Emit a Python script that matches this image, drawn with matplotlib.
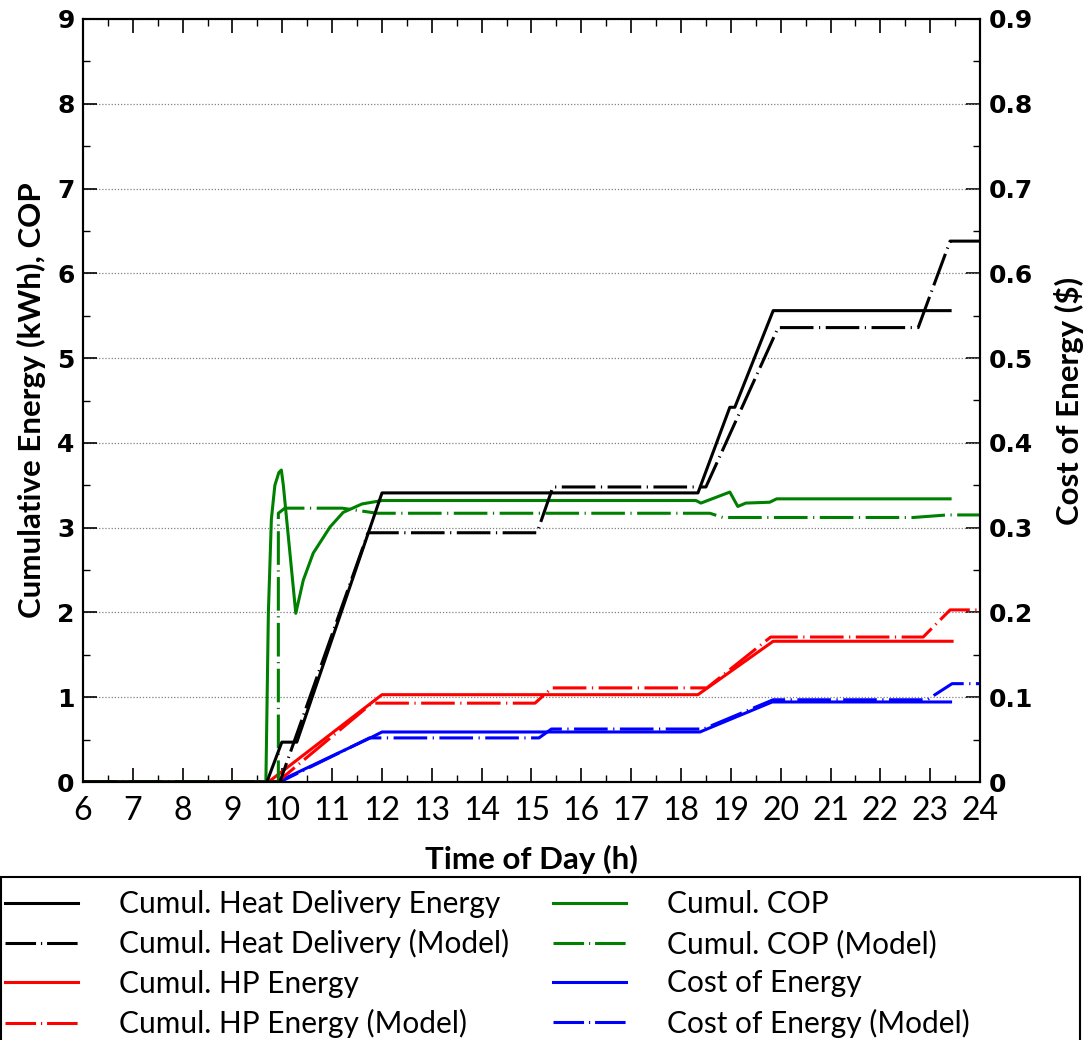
import matplotlib
matplotlib.use("Agg")
import matplotlib.pyplot as plt
from matplotlib.lines import Line2D
from matplotlib.patches import Rectangle
from matplotlib.ticker import MultipleLocator

# ---------------- data ----------------
heat_t = [6, 9.69, 9.99, 10.29, 12.0, 18.34, 18.98, 19.08, 19.85, 23.4]
heat_v = [0, 0, 0.47, 0.47, 3.41, 3.41, 4.42, 4.42, 5.56, 5.56]

heatm_t = [6, 9.95, 11.72, 15.11, 15.43, 18.5, 19.95, 22.76, 23.4, 24]
heatm_v = [0, 0, 2.94, 2.94, 3.48, 3.48, 5.36, 5.36, 6.38, 6.38]

hp_t = [6, 9.72, 12.0, 18.34, 19.85, 23.44]
hp_v = [0, 0, 1.03, 1.03, 1.66, 1.66]

hpm_t = [6, 9.9, 11.8, 15.07, 15.41, 18.52, 19.8, 22.86, 23.4, 24]
hpm_v = [0, 0, 0.93, 0.93, 1.11, 1.11, 1.71, 1.71, 2.03, 2.03]

cop_t = [6, 9.67, 9.72, 9.78, 9.85, 9.93, 9.98, 10.02, 10.27, 10.42, 10.62, 10.96,
         11.22, 11.6, 12.0, 18.3, 18.4, 18.98, 19.14, 19.3, 19.78, 19.92, 23.4]
cop_v = [0, 0, 2.0, 3.1, 3.5, 3.65, 3.68, 3.5, 1.99, 2.38, 2.70, 3.01,
         3.18, 3.28, 3.32, 3.32, 3.29, 3.42, 3.25, 3.29, 3.30, 3.34, 3.34]

copm_t = [6, 9.92, 9.92, 10.05, 11.2, 11.9, 18.58, 18.84, 22.66, 23.34, 24]
copm_v = [0, 0, 3.17, 3.23, 3.23, 3.17, 3.17, 3.12, 3.12, 3.15, 3.15]

cost_t = [6, 9.9, 11.8, 12.0, 18.38, 19.83, 23.44]
cost_v = [0, 0, 0.053, 0.059, 0.059, 0.0944, 0.0944]

costm_t = [6, 9.95, 11.75, 15.15, 15.4, 18.45, 19.85, 22.94, 23.44, 24]
costm_v = [0, 0, 0.052, 0.052, 0.0625, 0.0625, 0.097, 0.097, 0.116, 0.116]

labels = ["Cumul. Heat Delivery Energy", "Cumul. Heat Delivery (Model)",
          "Cumul. HP Energy", "Cumul. HP Energy (Model)",
          "Cumul. COP", "Cumul. COP (Model)",
          "Cost of Energy", "Cost of Energy (Model)"]

x_ticks = list(range(6, 25))
y_ticks = list(range(0, 10))
y2_ticks = [0, 0.1, 0.2, 0.3, 0.4, 0.5, 0.6, 0.7, 0.8, 0.9]
y2_ticklabels = ["0", "0.1", "0.2", "0.3", "0.4", "0.5", "0.6", "0.7", "0.8", "0.9"]

# ---------------- style ----------------
NARROW = ["Lato", "DejaVu Sans"]
BOLDTICK = ["DejaVu Sans"]
LW = 2.2
DASH = (0, (11, 1.8, 0.4, 1.8))
LEG_DASH = (0, (10, 1.6, 0.4, 1.6))
GREEN = "#008000"
W, H = 1087, 1040

fig = plt.figure(figsize=(W / 100, H / 100), dpi=100)
ax = fig.add_axes([83 / W, 1 - 782 / H, (980 - 83) / W, (782 - 19) / H])
ax2 = ax.twinx()
ax.set_zorder(ax2.get_zorder() + 1)
ax.patch.set_visible(False)

ax2.plot(cost_t, cost_v, color="blue", lw=LW, solid_capstyle="butt")
ax2.plot(costm_t, costm_v, color="blue", lw=LW, linestyle=DASH, dash_capstyle="butt")

ax.plot(hpm_t, hpm_v, color="red", lw=LW, linestyle=DASH)
ax.plot(hp_t, hp_v, color="red", lw=LW)
ax.plot(copm_t, copm_v, color=GREEN, lw=LW, linestyle=DASH)
ax.plot(cop_t, cop_v, color=GREEN, lw=LW)
ax.plot(heatm_t, heatm_v, color="black", lw=LW, linestyle=DASH)
ax.plot(heat_t, heat_v, color="black", lw=LW)

ax.set_xlim(6, 24)
ax.set_ylim(0, 9)
ax2.set_ylim(0, 0.9)

ax.set_xticks(x_ticks)
ax.set_xticklabels([str(v) for v in x_ticks], fontfamily=NARROW, fontsize=23)
ax.set_yticks(y_ticks)
ax.set_yticklabels([str(v) for v in y_ticks], fontfamily=BOLDTICK, fontweight="bold", fontsize=18)
ax2.set_yticks(y2_ticks)
ax2.set_yticklabels(y2_ticklabels, fontfamily=BOLDTICK, fontweight="bold", fontsize=18)

ax.xaxis.set_minor_locator(MultipleLocator(0.5))
ax.yaxis.set_minor_locator(MultipleLocator(0.5))
ax2.yaxis.set_minor_locator(MultipleLocator(0.05))

ax.tick_params(axis="x", which="both", direction="in", top=True, bottom=True, pad=10)
ax.tick_params(axis="y", which="both", direction="in", left=True, right=False, pad=6)
ax2.tick_params(axis="y", which="both", direction="in", right=True, pad=6)
for a in (ax, ax2):
    a.tick_params(which="major", length=10, width=1.2)
    a.tick_params(which="minor", length=5, width=1.0)
    for s in a.spines.values():
        s.set_linewidth(1.5)

ax.grid(axis="y", which="major", linestyle=(0, (1, 1.5)), color="#808080", lw=0.9)
ax.set_axisbelow(True)

ax.set_xlabel("Time of Day (h)", fontfamily=NARROW, fontweight="bold", fontsize=22.5, labelpad=14)
ax.set_ylabel("Cumulative Energy (kWh), COP", fontfamily=NARROW, fontweight="bold", fontsize=22.5, labelpad=8)
ax2.set_ylabel("Cost of Energy ($)", fontfamily=NARROW, fontweight="bold", fontsize=22.5, labelpad=15)

# ---------------- legend ----------------
def handle(color, ls):
    return Line2D([0], [0], color=color, lw=LW, linestyle=ls)

col1 = [handle("black", "-"), handle("black", LEG_DASH), handle("red", "-"), handle("red", LEG_DASH)]
col2 = [handle(GREEN, "-"), handle(GREEN, LEG_DASH), handle("blue", "-"), handle("blue", LEG_DASH)]

common = dict(loc="upper left", frameon=False, borderpad=0, borderaxespad=0,
              handlelength=2.45, handletextpad=1.38, labelspacing=0.38,
              prop={"family": NARROW, "size": 21.5})
leg1 = fig.legend(col1, labels[0:4], bbox_to_anchor=(5 / W, 1 - 890 / H), **common)
leg2 = fig.legend(col2, labels[4:8], bbox_to_anchor=(553 / W, 1 - 890 / H), **common)

fig.patches.append(Rectangle((1 / W, -0.02), 1079 / W, (1 - 877 / H) + 0.02,
                             transform=fig.transFigure, fill=False,
                             edgecolor="black", lw=1.5))

fig.savefig("out.png", dpi=100)
